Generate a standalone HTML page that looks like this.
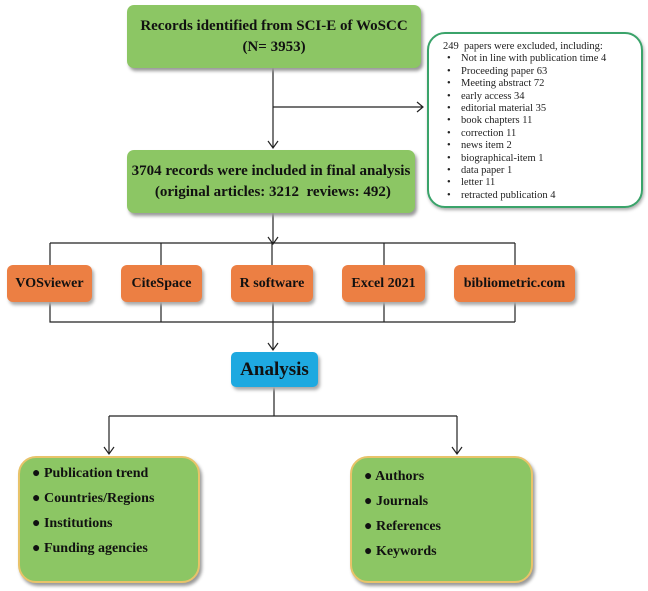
<!DOCTYPE html>
<html><head><style>
body{margin:0;width:648px;height:591px;background:#fff;position:relative;font-family:"Liberation Serif",serif;overflow:hidden}
.b{position:absolute;box-sizing:border-box;display:flex;align-items:center;justify-content:center;text-align:center;font-weight:bold;color:#111}
.g{background:#8cc664;border-radius:7px;box-shadow:2px 3px 3px #999;font-size:15px;line-height:21px}
.o{background:#ec7f43;border-radius:6px;box-shadow:2px 3px 3px #aaa;font-size:14px;top:265px;height:37px}
.a{background:#1ea9e0;border-radius:5px;box-shadow:2px 3px 3px #aaa;font-size:19px}
.l{position:absolute;background:#8cc664;border:2px solid #e8c36a;border-radius:18px;box-shadow:2px 3px 3px #999;font-weight:bold;font-size:14px;color:#111;box-sizing:border-box;padding-left:12px}
.l div{height:25px}
.ex{position:absolute;left:427px;top:32px;width:216px;height:176px;border:2px solid #3aa36a;border-radius:18px;box-sizing:border-box;font-size:10.5px;line-height:12.4px;padding:7px 0 0 14px;color:#222;box-shadow:1px 2px 3px #aaa}
.ex ul{margin:0;padding:0 0 0 4px;list-style:none}
.ex li:before{content:"•";display:inline-block;width:14px}
</style></head><body>
<svg width="648" height="591" style="position:absolute;left:0;top:0" fill="none" stroke="#222" stroke-width="1.2">
<path d="M273 68V148M273 107H422M268 141l5 7 5-7M417 102l6 5-6 5"/>
<path d="M273 213V243M268 237l5 7 5-7M50 243H515M50 243V265M161 243V265M272 243V265M384 243V265M515 243V265"/>
<path d="M50 302V322H515M161 302V322M384 302V322M515 302V322M273 302V350M268 343l5 7 5-7"/>
<path d="M274 387V416M109 416H457M109 416V454M457 416V454M104 447l5 7 5-7M452 447l5 7 5-7"/>
</svg>
<div class="b g" style="left:127px;top:5px;width:294px;height:63px">Records identified from SCI-E of WoSCC<br>(N= 3953)</div>
<div class="ex">249&nbsp; papers were excluded, including:<ul>
<li>Not in line with publication time 4</li><li>Proceeding paper 63</li><li>Meeting abstract 72</li><li>early access 34</li><li>editorial material 35</li><li>book chapters 11</li><li>correction 11</li><li>news item 2</li><li>biographical-item 1</li><li>data paper 1</li><li>letter 11</li><li>retracted publication 4</li></ul></div>
<div class="b g" style="left:127px;top:150px;width:288px;height:63px">3704 records were included in final analysis<br>&nbsp;(original articles: 3212&nbsp; reviews: 492)</div>
<div class="b o" style="left:7px;width:85px">VOSviewer</div>
<div class="b o" style="left:121px;width:81px">CiteSpace</div>
<div class="b o" style="left:231px;width:82px">R software</div>
<div class="b o" style="left:342px;width:83px">Excel 2021</div>
<div class="b o" style="left:454px;width:121px">bibliometric.com</div>
<div class="b a" style="left:231px;top:352px;width:87px;height:35px">Analysis</div>
<div class="l" style="left:18px;top:456px;width:182px;height:127px;padding-top:8px"><div>● Publication trend</div><div>● Countries/Regions</div><div>● Institutions</div><div>● Funding agencies</div></div>
<div class="l" style="left:350px;top:456px;width:183px;height:127px;padding-top:11px"><div>● Authors</div><div>● Journals</div><div>● References</div><div>● Keywords</div></div>
</body></html>
